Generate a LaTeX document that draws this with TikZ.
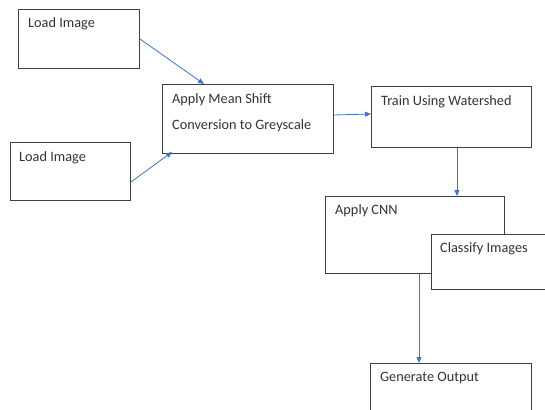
\documentclass[tikz,border=0pt]{standalone}
\usepackage{fontspec}
\setmainfont{Carlito}
\usetikzlibrary{arrows.meta,calc}
\definecolor{arrowblue}{HTML}{4472C4}
\definecolor{boxgray}{HTML}{404040}
\definecolor{textgray}{HTML}{333333}
\begin{document}
\begin{tikzpicture}[x=1pt,y=-1pt,
  box/.style={draw=boxgray, line width=1pt, fill=white, anchor=north west, inner sep=0pt},
  lbl/.style={anchor=base west, inner sep=0pt, text=textgray, font=\fontsize{14.3}{17}\selectfont},
  conn/.style={draw=arrowblue, line width=0.8pt, -{Triangle[length=6pt,width=5pt]}}]
\useasboundingbox (0,0) rectangle (545,409);
\clip (0,0) rectangle (545,409);
\fill[white] (0,0) rectangle (545,409);
% boxes
\node[box, minimum width=121pt, minimum height=59pt] (l1) at (18,9) {};
\node[box, minimum width=120pt, minimum height=58pt] (l2) at (10,142) {};
\node[box, minimum width=171pt, minimum height=69pt] (ms) at (162,84) {};
\node[box, minimum width=160pt, minimum height=61pt] (tw) at (371,86) {};
\node[box, minimum width=179pt, minimum height=77pt] (cnn) at (325,196) {};
\node[box, minimum width=130pt, minimum height=55pt] (cls) at (431,234) {};
\node[box, minimum width=161pt, minimum height=60pt] (go) at (370,363) {};
% labels
\node[lbl] (t1) at (28,27.5) {Load Image};
\node[lbl] (t2) at (19,161.5) {Load Image};
\node[lbl] (t3) at (172,103.5) {Apply Mean Shift};
\node[lbl] (t4) at (172,129.5) {Conversion to Greyscale};
\node[lbl] (t5) at (381,105.5) {Train Using Watershed};
\node[lbl] (t6) at (335,214) {Apply CNN};
\node[lbl] (t7) at (440,252) {Classify Images};
\node[lbl] (t8) at (380,381) {Generate Output};
% connector end points
\coordinate (a1s) at ($(l1.north east)+(0,30)$);
\coordinate (a1e) at ($(ms.north west)+(42,0)$);
\coordinate (a2s) at ($(l2.north east)+(0,40)$);
\coordinate (a2e) at ($(ms.south west)+(10,-2)$);
\coordinate (a3s) at ($(ms.north east)+(0,31)$);
\coordinate (a3e) at ($(tw.north west)+(0,28)$);
\coordinate (a4s) at ($(tw.south west)+(86,0)$);
\coordinate (a4e) at ($(cnn.north west)+(132,0)$);
\coordinate (a5s) at ($(cnn.south west)+(94,0)$);
\coordinate (a5e) at ($(go.north west)+(49,0)$);
% connectors
\draw[conn] (a1s) -- (a1e);
\draw[conn] (a2s) -- (a2e);
\draw[conn] (a3s) -- (a3e);
\draw[conn] (a4s) -- (a4e);
\draw[conn] (a5s) -- (a5e);
\end{tikzpicture}
\end{document}
